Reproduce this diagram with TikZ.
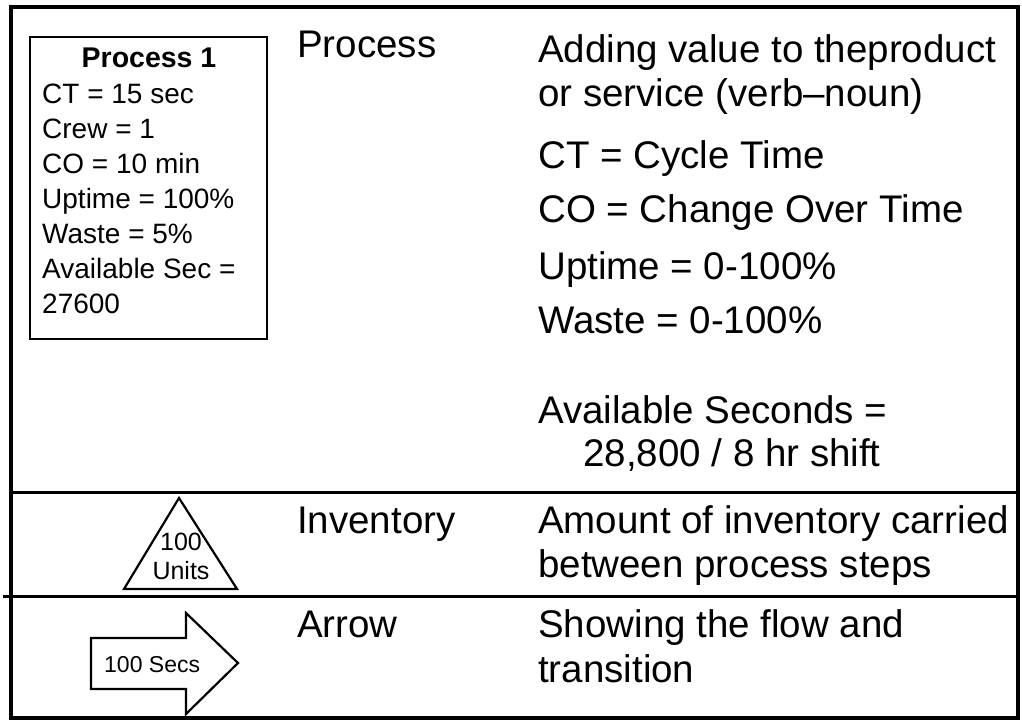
\documentclass[tikz,border=0pt]{standalone}
\usepackage{fontspec}
\setmainfont{Liberation Sans}
\begin{document}
\begin{tikzpicture}[x=1pt,y=-1pt,
  frame/.style={line width=4pt},
  divider/.style={line width=3pt},
  symline/.style={line width=2.2pt, line join=miter},
  big/.style={font=\fontsize{38.5}{46}\selectfont, anchor=base west, inner sep=0pt},
  small/.style={font=\fontsize{28}{34}\selectfont, anchor=base west, inner sep=0pt},
  tiny/.style={font=\fontsize{25}{28}\selectfont, anchor=base, inner sep=0pt}]
\useasboundingbox (0,0) rectangle (1022,726);
% frame
\draw[frame] (10.5,7) rectangle (1018,718);
\draw[divider] (10.5,492) -- (1018,492);
\draw[divider] (3,596) -- (1018,596);
% process box
\draw[symline] (30,37) rectangle (267,339);
\node[font=\fontsize{28.5}{34}\selectfont\bfseries, anchor=base, inner sep=0pt] (p1) at (149,67) {Process 1};
\node[small] (ct) at (42,103) {CT = 15 sec};
\node[small] (crew) at (42,138) {Crew = 1};
\node[small] (co) at (42,173) {CO = 10 min};
\node[small] (up) at (42,208) {Uptime = 100\%};
\node[small] (wa) at (42,243) {Waste = 5\%};
\node[small] (av) at (42,278) {Available Sec =};
\node[small] (av2) at (42,313) {27600};
% right column - process
\node[big] (lproc) at (297,57) {Process};
\node[big] (d1) at (538,62) {Adding value to theproduct};
\node[big] (d2) at (538,106) {or service (verb--noun)};
\node[big] (d3) at (538,168) {CT = Cycle Time};
\node[big] (d4) at (538,222) {CO = Change Over Time};
\node[big] (d5) at (538,279) {Uptime = 0-100\%};
\node[big] (d6) at (538,333) {Waste = 0-100\%};
\node[big] (d7) at (538,423) {Available Seconds =};
\node[big] (d8) at (583,466) {28,800 / 8 hr shift};
% inventory
\draw[symline] (179,498) -- (237,589) -- (124,589) -- cycle;
\node[tiny] (t1) at (181,550) {100};
\node[tiny] (t2) at (181,579) {Units};
\node[big] (linv) at (297,533) {Inventory};
\node[big] (e1) at (538,533) {Amount of inventory carried};
\node[big] (e2) at (538,577) {between process steps};
% arrow
\draw[symline] (91,638) -- (186,638) -- (186,613) -- (238,663) -- (186,714) -- (186,689) -- (91,689) -- cycle;
\node[font=\fontsize{23}{28}\selectfont, anchor=base west, inner sep=0pt] (sec) at (104,672) {100 Secs};
\node[big] (larr) at (297,637) {Arrow};
\node[big] (f1) at (538,637) {Showing the flow and};
\node[big] (f2) at (538,682) {transition};
\end{tikzpicture}
\end{document}
